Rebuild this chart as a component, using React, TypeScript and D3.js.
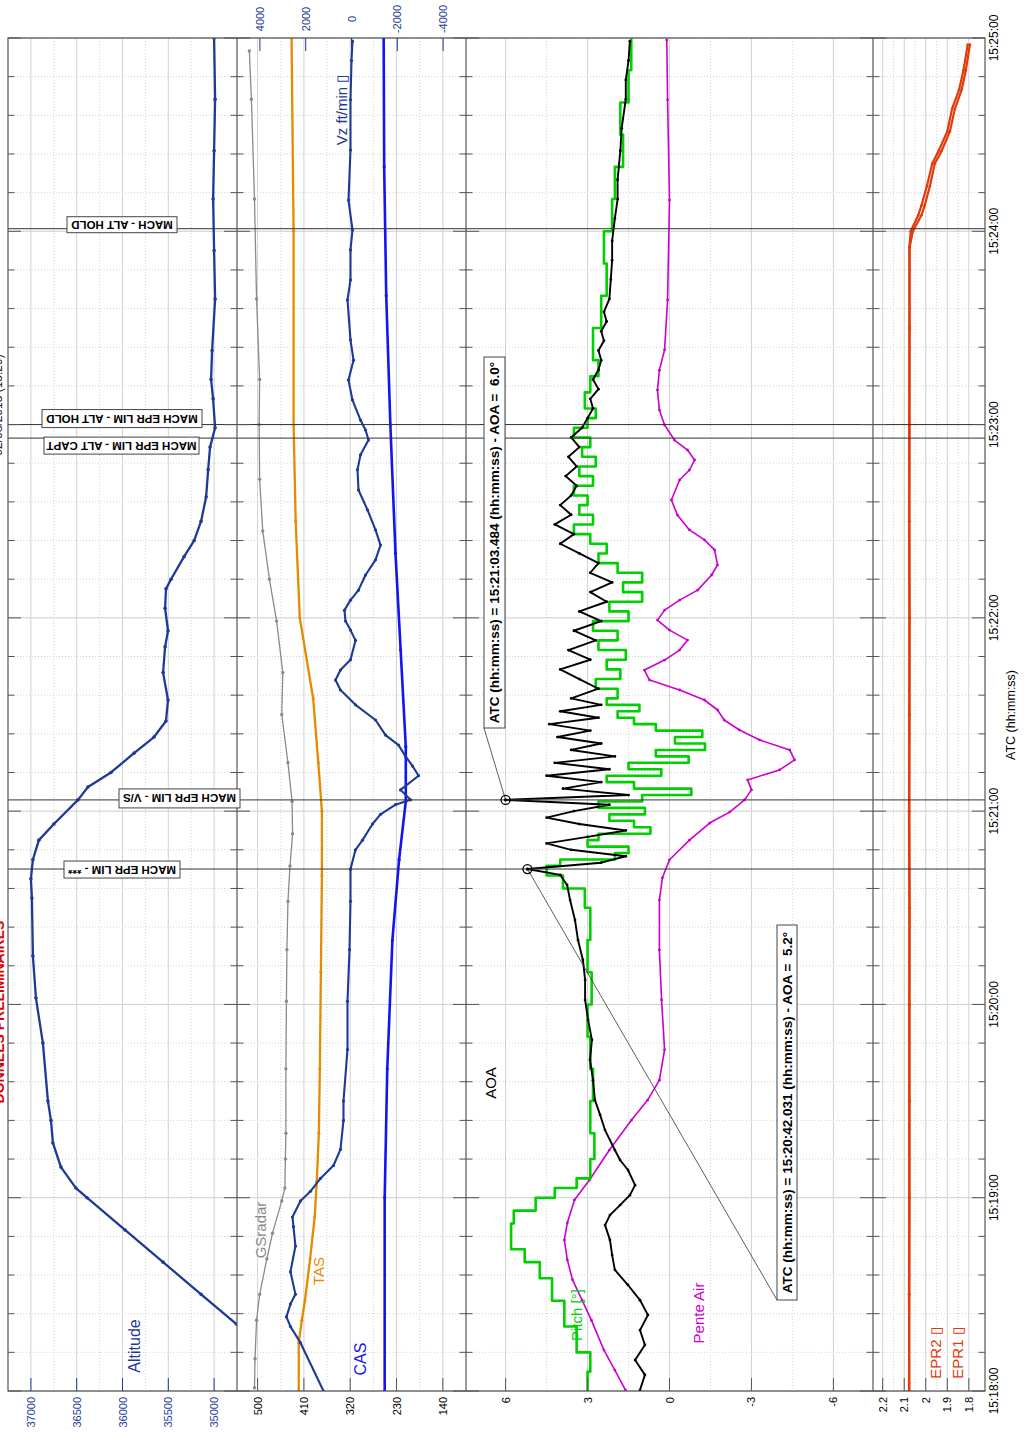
import React from 'react';
import * as d3 from 'd3';

type P = [number, number];

// ---------- axis ticks ----------
const timeMajor = [0, 60, 120, 180, 240, 300, 360, 420];
const timeMajorLabels = ['15:18:00', '15:19:00', '15:20:00', '15:21:00', '15:22:00', '15:23:00', '15:24:00', '15:25:00'];
const timeMinor = d3.range(0, 421, 12);

const altTicks = [37000, 36500, 36000, 35500, 35000];
const altMinor = [36750, 36250, 35750, 35250];
const spdTicks = [500, 410, 320, 230, 140];
const spdMinor = [455, 365, 275, 185];
const vzTicks = [4000, 2000, 0, -2000, -4000];
const aoaTicks = [6, 3, 0, -3, -6];
const aoaMinor = [4.5, 1.5, -1.5, -4.5];
const eprTicks = [2.2, 2.1, 2, 1.9, 1.8];
const eprMinor = [2.15, 2.05, 1.95, 1.85];

// ---------- series: [seconds after 15:18:00, value] ----------
const altitude: P[] = [[0,33896],[10,34311],[20.8,34759],[30,35142],[40,35557],[50,35973],[60,36388],[63,36508],[69.5,36672],[77,36760],[84,36781],[90,36814],[108,36869],[122,36945],[135,36978],[153,36989],[159,37000],[165,36978],[171,36913],[176,36749],[183.5,36486],[187.5,36377],[192,36126],[198,35874],[203,35656],[208,35525],[214.5,35503],[223,35557],[231,35535],[236,35503],[243,35535],[249,35525],[252,35470],[259,35328],[264,35218],[270,35142],[277.5,35087],[286,35065],[293,35044],[299,34989],[308,35011],[314,35033],[323,35022],[339,34989],[354,35000],[370,35011],[385,35000],[401,34989],[420,35000]];

const gsRadar: P[] = [[1,506],[10,505],[22,502],[30,496],[41,482],[49,471],[59,453],[63,447],[72,446],[80,445],[100,445],[121,444],[137,443],[152,441],[163,437],[173,432],[183,433],[195,441],[210,453],[223,451],[239,463],[252,477],[267,490],[283,496],[300,497],[314,496],[339,502],[370,506],[401,512],[416,516]];

const tas: P[] = [[0,420],[15,420],[22,414],[28,408],[41,398],[54,389],[65,385],[80,381],[100,379],[130,377],[160,375],[180,375],[195,382],[215,392],[240,418],[270,426],[300,430],[360,430],[420,434]];

const cas: P[] = [[0,253],[60,253],[100,248],[140,238],[165,225],[183,212],[200,212],[230,222],[260,232],[300,242],[340,250],[380,254],[420,255]];

const vz: P[] = [[0,1224],[15,2229],[20,2666],[23,2840],[27,2666],[30,2447],[37,2666],[45,2447],[51,2535],[54,2578],[59,2229],[62,1792],[66,1355],[70,787],[75,481],[84,350],[90,350],[106,175],[121,175],[137,87],[152,44],[162,44],[168,-175],[171,-480],[176,-918],[179,-1267],[182,-1923],[183.5,-2578],[186.6,-2141],[191,-2928],[194,-2666],[197,-2360],[200.5,-2054],[203.6,-1486],[208.3,-1049],[213,-175],[217.6,481],[220.7,699],[223.8,481],[227,44],[233,-175],[236.2,44],[239,262],[242.4,306],[245.5,44],[248.6,-306],[253.3,-612],[258,-1049],[262.6,-1267],[267.3,-1049],[273.5,-699],[279.7,-306],[286,-262],[290.6,-393],[295.2,-743],[298.3,-612],[301.4,-393],[307.6,-44],[313.8,131],[320,-87],[326.3,44],[338.7,175],[344.9,44],[354.2,44],[360.4,-44],[369.7,131],[385.2,44],[400.8,44],[413,0],[419,-44]];

const aoa: P[] = [[0.3,1.08],[5,0.9],[9.6,1.26],[14.3,0.9],[18.9,1.08],[23.6,0.79],[28.2,1.08],[32.9,1.52],[37.6,2.0],[42.2,2.1],[46.9,2.18],[51.5,2.36],[54.6,2.18],[57.7,1.81],[60.8,1.45],[63.9,1.26],[68.6,1.52],[71.7,1.81],[74.8,2.0],[81,2.36],[85.7,2.54],[90.3,2.73],[96.5,2.8],[102.8,2.91],[109,2.84],[115.2,2.98],[121.4,3.09],[127.6,3.09],[133.8,3.17],[140,3.35],[146.2,3.46],[152.4,3.64],[157.1,3.75],[160.2,4.0],[162.031,5.2],[164,2.5],[166,1.6],[168,3.6],[170,4.5],[172,3.0],[174,1.6],[176,3.3],[178,4.5],[180,3.5],[182,2.2],[183.484,6.0],[185,1.5],[187,3.9],[189,2.5],[191,4.5],[193,2.2],[195,4.2],[197,2.0],[199,3.6],[201,2.5],[203,4.1],[205,2.9],[207,4.4],[209,2.6],[211,4.0],[213,2.5],[215,3.6],[218,2.6],[221,3.3],[224,4.0],[227,2.9],[230,3.7],[233,2.7],[236,3.5],[239,2.5],[242,3.3],[245,2.3],[248,2.9],[251,2.1],[254,2.9],[257,2.6],[260,3.3],[263,4.0],[266,3.5],[269,4.2],[272,3.6],[275,4.0],[278,3.6],[281,3.4],[284,3.8],[287,3.4],[290,3.7],[293,3.3],[296,3.6],[299,3.2],[302,3.0],[305,2.8],[308,2.9],[311,2.6],[314,2.8],[317,2.6],[320,2.5],[323,2.6],[326,2.4],[329,2.5],[332,2.3],[335,2.4],[339,2.2],[345,2.15],[351,2.1],[357,2.1],[364,2.0],[370,1.9],[376,1.9],[385,1.8],[392,1.75],[401,1.6],[407,1.6],[413,1.5],[419,1.45]];

const pitch: P[] = [[0,3.0],[6,2.9],[12,3.4],[20,3.85],[28,4.3],[35,4.75],[40,5.3],[44,5.8],[52,5.7],[56,4.9],[60,4.2],[63,3.4],[66,2.9],[72,2.75],[80,2.9],[90,2.8],[100,2.9],[110,3.0],[120,2.85],[130,3.0],[140,2.9],[150,3.1],[156,3.9],[160,4.5],[163,4.0],[165,2.0],[167,1.5],[169,3.0],[171,2.6],[173,0.7],[175,1.3],[177,2.2],[179,0.9],[181,2.6],[183,1.0],[185,-0.8],[187,1.3],[189,2.3],[191,0.3],[193,1.5],[195,-0.7],[197,0.5],[199,-1.3],[201,-0.2],[203,-1.2],[205,0.5],[207,1.3],[209,1.9],[211,1.1],[213,2.3],[215,1.9],[218,2.7],[221,1.8],[224,2.3],[227,1.6],[230,2.6],[233,1.9],[236,2.8],[239,1.5],[242,2.2],[245,1.0],[248,1.7],[251,1.0],[254,1.9],[257,2.6],[260,2.3],[263,2.9],[266,3.5],[269,2.8],[272,3.3],[275,3.0],[278,3.5],[281,2.8],[284,3.3],[287,2.7],[290,3.2],[293,2.9],[296,3.5],[299,3.0],[302,2.7],[305,3.1],[310,2.9],[315,2.6],[320,2.8],[330,2.5],[340,2.3],[350,2.4],[360,2.1],[370,2.0],[380,1.7],[390,1.8],[400,1.5],[410,1.4],[420,1.45]];

const penteAir: P[] = [[0.3,1.61],[6.5,2.0],[12.7,2.4],[22,2.86],[28.2,3.2],[34.5,3.55],[40.7,3.74],[46.9,3.85],[52.2,3.74],[59.3,3.48],[65.5,2.93],[74.8,2.2],[84.1,1.39],[90.3,0.8],[96.5,0.37],[105.9,0.18],[121.4,0.29],[136.9,0.37],[152.4,0.37],[159.3,0.26],[164.9,0],[171,-0.73],[176.3,-1.47],[179.7,-2.2],[183.5,-2.75],[186.6,-3.0],[189.7,-2.86],[192.8,-4.03],[195.9,-4.58],[199,-4.4],[202.1,-3.3],[205.2,-2.56],[208.3,-2.0],[211.4,-1.76],[214.5,-1.28],[217.6,-0.37],[220.7,0.73],[223.8,0.92],[226.9,0.18],[230,-0.37],[233.1,-0.66],[236.2,0],[239.3,0.44],[242.4,0.18],[245.5,-0.37],[248.6,-1.03],[253.3,-1.54],[256.4,-1.76],[261.1,-1.65],[264.2,-1.28],[267.3,-0.73],[271.9,-0.29],[276.6,-0.07],[282.8,-0.37],[285.9,-0.73],[289,-0.92],[292.1,-0.66],[295.2,-0.18],[299.9,0.18],[304.5,0.37],[310.7,0.44],[316.9,0.37],[323.2,0.18],[338.7,0.07],[369.7,0],[400.8,0.07],[419.4,0.1]];

const epr1: P[] = [[0,2.076],[30,2.078],[60,2.075],[90,2.077],[120,2.075],[150,2.076],[180,2.078],[210,2.075],[240,2.076],[270,2.077],[300,2.075],[330,2.076],[355,2.075],[360,2.06],[365,2.02],[368,2.005],[374,1.981],[381,1.958],[385,1.926],[391,1.888],[398,1.865],[404,1.833],[410,1.814],[418,1.795]];
const epr2: P[] = [[0,2.078],[30,2.076],[60,2.077],[90,2.075],[120,2.077],[150,2.075],[180,2.076],[210,2.077],[240,2.075],[270,2.076],[300,2.077],[330,2.075],[355,2.076],[360,2.07],[365,2.035],[368,2.02],[374,1.995],[381,1.97],[385,1.94],[391,1.9],[398,1.878],[404,1.845],[410,1.825],[418,1.805]];

// ---------- events & cursors ----------
const eventTimes = [162.031, 183.484, 295.8, 300.0, 360.8];
const eventLabels = ['MACH EPR LIM - ***', 'MACH EPR LIM - V/S', 'MACH EPR LIM - ALT CAPT', 'MACH EPR LIM - ALT HOLD', 'MACH - ALT HOLD'];
const cursorTimes = [162.031, 183.484];
const cursorAoa = [5.2, 6.0];
const cursorLabels = [
  'ATC (hh:mm:ss) = 15:20:42.031 (hh:mm:ss) - AOA =  5.2\u00b0',
  'ATC (hh:mm:ss) = 15:21:03.484 (hh:mm:ss) - AOA =  6.0\u00b0',
];

// ---------- layout ----------
const L = 8, R = 985, T = 38, B = 1391;
const ALT_X: [number, number] = [8, 237];
const SPD_X: [number, number] = [237, 466];
const AOA_X: [number, number] = [466, 873];
const EPR_X: [number, number] = [873, 985];
const eventBoxLayout = [
  { cx: 122, dy: 0.5, w: 116, h: 17 },
  { cx: 179.5, dy: -1.5, w: 121, h: 19 },
  { cx: 121.5, dy: 7.5, w: 155, h: 17 },
  { cx: 122, dy: -6, w: 160, h: 18 },
  { cx: 122, dy: -4, w: 110, h: 16 },
];
const cursorBoxLayout = [
  { x: 777, y: 925, w: 20, h: 375 },
  { x: 484, y: 357, w: 21, h: 371 },
];

const NAVY = '#1f3a96';
const BLUE = '#1414f0';
const ORANGE = '#e68a00';
const GRAY = '#8a8a8a';
const GREEN = '#00d000';
const MAGENTA = '#cc00cc';
const RED = '#e23a0a';
const GRID = '#d2d2d2';
const FRAME = '#555555';
const FONT = '"Liberation Sans", Arial, sans-serif';

export default function App() {
  const yT = d3.scaleLinear().domain([0, 420]).range([B, T]);
  const xAlt = d3.scaleLinear().domain([37250, 34750]).range(ALT_X);
  const xSpd = d3.scaleLinear().domain([540, 95]).range(SPD_X);
  const xVz = d3.scaleLinear().domain([5000, -5000]).range(SPD_X);
  const xAoa = d3.scaleLinear().domain([7.45, -7.45]).range(AOA_X);
  const xEpr = d3.scaleLinear().domain([2.245, 1.725]).range(EPR_X);

  const line = (xs: d3.ScaleLinear<number, number>) =>
    d3.line<P>().x((d) => xs(d[1])).y((d) => yT(d[0]));
  const step = (xs: d3.ScaleLinear<number, number>) =>
    d3.line<P>().x((d) => xs(d[1])).y((d) => yT(d[0])).curve(d3.curveStepBefore);

  const series = (data: P[], xs: d3.ScaleLinear<number, number>, color: string, w: number, r: number, stepped = false) => (
    <g>
      <path d={(stepped ? step(xs) : line(xs))(data) || ''} fill="none" stroke={color} strokeWidth={w} strokeLinejoin="round" />
      {r > 0 && data.map((d, i) => <circle key={i} cx={xs(d[1])} cy={yT(d[0])} r={r} fill={color} />)}
    </g>
  );

  const vGrid = (xs: d3.ScaleLinear<number, number>, major: number[], minor: number[]) => (
    <g>
      {minor.map((v) => <line key={'m' + v} x1={xs(v)} x2={xs(v)} y1={T} y2={B} stroke={GRID} strokeDasharray="1,2" />)}
      {major.map((v) => <line key={'M' + v} x1={xs(v)} x2={xs(v)} y1={T} y2={B} stroke={GRID} />)}
    </g>
  );

  const rotText = (x: number, y: number, txt: string, color: string, size: number, anchor = 'middle', weight = 'normal', angle = -90) => (
    <text transform={`translate(${x},${y}) rotate(${angle})`} textAnchor={anchor} dominantBaseline="central"
      fill={color} fontSize={size} fontFamily={FONT} fontWeight={weight} style={{ whiteSpace: 'pre' }}>{txt}</text>
  );

  const edgesLeft = [ALT_X[0], SPD_X[0], AOA_X[0], EPR_X[0]];
  const edgesRight = [ALT_X[1], SPD_X[1], AOA_X[1], EPR_X[1]];

  return (
    <svg width={1024} height={1432} style={{ position: 'absolute', left: 0, top: 0, background: '#fff' }}>
      <defs>
        <clipPath id="cAlt"><rect x={ALT_X[0]} y={T} width={ALT_X[1] - ALT_X[0]} height={B - T} /></clipPath>
        <clipPath id="cSpd"><rect x={SPD_X[0]} y={T} width={SPD_X[1] - SPD_X[0]} height={B - T} /></clipPath>
        <clipPath id="cAoa"><rect x={AOA_X[0]} y={T} width={AOA_X[1] - AOA_X[0]} height={B - T} /></clipPath>
        <clipPath id="cEpr"><rect x={EPR_X[0]} y={T} width={EPR_X[1] - EPR_X[0]} height={B - T} /></clipPath>
      </defs>
      <rect x={0} y={0} width={1024} height={1432} fill="#fff" />

      {/* time grid */}
      {timeMinor.map((t) => <line key={'tm' + t} x1={L} x2={R} y1={yT(t)} y2={yT(t)} stroke={GRID} strokeDasharray="1,2" />)}
      {timeMajor.map((t) => <line key={'tM' + t} x1={L} x2={R} y1={yT(t)} y2={yT(t)} stroke={GRID} />)}

      {/* value grids */}
      {vGrid(xAlt, altTicks, altMinor)}
      {vGrid(xSpd, spdTicks, spdMinor)}
      {vGrid(xAoa, aoaTicks, aoaMinor)}
      {vGrid(xEpr, eprTicks, eprMinor)}

      {/* series */}
      <g clipPath="url(#cAlt)">{series(altitude, xAlt, NAVY, 2.3, 1.8)}</g>
      <g clipPath="url(#cSpd)">
        {series(gsRadar, xSpd, GRAY, 1.3, 1.7)}
        {series(tas, xSpd, ORANGE, 2.3, 1.5)}
        {series(cas, xSpd, BLUE, 2.6, 1.6)}
        {series(vz, xVz, NAVY, 2.1, 1.6)}
      </g>
      <g clipPath="url(#cAoa)">
        {series(penteAir, xAoa, MAGENTA, 1.6, 1.4)}
        {series(pitch, xAoa, GREEN, 2.6, 0, true)}
        {series(aoa, xAoa, '#000', 1.9, 1.4)}
      </g>
      <g clipPath="url(#cEpr)">
        {series(epr2, xEpr, RED, 2.2, 1.3)}
        {series(epr1, xEpr, RED, 2.2, 1.3)}
      </g>

      {/* event lines */}
      {eventTimes.map((t, i) => <line key={'ev' + i} x1={L} x2={R} y1={yT(t)} y2={yT(t)} stroke="#333" strokeWidth={1} />)}

      {/* frame */}
      <rect x={L} y={T} width={R - L} height={B - T} fill="none" stroke={FRAME} strokeWidth={1.2} />
      {[SPD_X[0], AOA_X[0], EPR_X[0]].map((x) => <line key={'pb' + x} x1={x} x2={x} y1={T} y2={B} stroke={FRAME} strokeWidth={1.2} />)}

      {/* time ticks on panel edges */}
      {timeMinor.map((t) => {
        const major = t % 60 === 0;
        const len = major ? 13 : 6.5;
        return (
          <g key={'tk' + t}>
            {edgesLeft.map((x) => <line key={'l' + x} x1={x} x2={x + len} y1={yT(t)} y2={yT(t)} stroke={FRAME} />)}
            {edgesRight.map((x) => <line key={'r' + x} x1={x - len} x2={x} y1={yT(t)} y2={yT(t)} stroke={FRAME} />)}
          </g>
        );
      })}

      {/* value ticks */}
      {altTicks.map((v) => <line key={'at' + v} x1={xAlt(v)} x2={xAlt(v)} y1={B - 13} y2={B} stroke={NAVY} />)}
      {spdTicks.map((v) => <line key={'st' + v} x1={xSpd(v)} x2={xSpd(v)} y1={B - 13} y2={B} stroke={FRAME} />)}
      {aoaTicks.map((v) => <line key={'ot' + v} x1={xAoa(v)} x2={xAoa(v)} y1={B - 13} y2={B} stroke={FRAME} />)}
      {eprTicks.map((v) => <line key={'et' + v} x1={xEpr(v)} x2={xEpr(v)} y1={B - 13} y2={B} stroke={FRAME} />)}
      {vzTicks.map((v) => <line key={'vt' + v} x1={xVz(v)} x2={xVz(v)} y1={T} y2={T + 13} stroke={NAVY} />)}

      {/* tick labels */}
      {altTicks.map((v) => <g key={'al' + v}>{rotText(xAlt(v), B + 6, String(v), NAVY, 11, 'end')}</g>)}
      {spdTicks.map((v) => <g key={'sl' + v}>{rotText(xSpd(v), B + 6, String(v), '#000', 11, 'end')}</g>)}
      {aoaTicks.map((v) => <g key={'ol' + v}>{rotText(xAoa(v), B + 6, String(v), '#000', 11, 'end')}</g>)}
      {eprTicks.map((v) => <g key={'el' + v}>{rotText(xEpr(v), B + 6, String(v), '#000', 11, 'end')}</g>)}
      {vzTicks.map((v) => <g key={'vl' + v}>{rotText(xVz(v), 19, String(v), NAVY, 11, 'middle')}</g>)}
      {timeMajor.map((t, i) => <g key={'tl' + t}>{rotText(994, yT(t), timeMajorLabels[i], '#000', 12, 'middle')}</g>)}
      {rotText(1011, 715, 'ATC (hh:mm:ss)', '#000', 12.5, 'middle')}

      {/* series labels */}
      {rotText(134, 1346, 'Altitude', NAVY, 16)}
      {rotText(260, 1230, 'GSradar', GRAY, 15)}
      {rotText(318, 1271, 'TAS', ORANGE, 15)}
      {rotText(360, 1359, 'CAS', BLUE, 16)}
      {rotText(341, 110, 'Vz ft/min \u25AF', NAVY, 15)}
      {rotText(490, 1083, 'AOA', '#000', 15)}
      {rotText(576, 1315, 'Pitch [\u00b0]', GREEN, 15)}
      {rotText(698, 1313, 'Pente Air', MAGENTA, 15)}
      {rotText(935, 1353, 'EPR2 \u25AF', RED, 15)}
      {rotText(957, 1353, 'EPR1 \u25AF', RED, 15)}

      {/* header texts, cut by the left page edge as in the source */}
      {rotText(-1, 1012, 'DONNEES PRELIMINAIRES', '#e00000', 14, 'middle', 'bold')}
      {rotText(-2, 405, '02/08/2013 (15:29)', '#222', 12, 'middle')}

      {/* event labels (upside down) */}
      {eventTimes.map((t, i) => {
        const b = eventBoxLayout[i];
        const cy = yT(t) + b.dy;
        return (
          <g key={'eb' + i}>
            <rect x={b.cx - b.w / 2} y={cy - b.h / 2} width={b.w} height={b.h} fill="#fff" stroke="#444" strokeWidth={1} />
            {rotText(b.cx, cy, eventLabels[i], '#000', 11.5, 'middle', 'bold', 180)}
          </g>
        );
      })}

      {/* cursor annotations */}
      {cursorTimes.map((t, i) => {
        const b = cursorBoxLayout[i];
        const mx = xAoa(cursorAoa[i]);
        const my = yT(t);
        return (
          <g key={'cu' + i}>
            <line x1={mx} y1={my} x2={b.x} y2={b.y + b.h} stroke="#333" strokeWidth={0.8} />
            <rect x={b.x} y={b.y} width={b.w} height={b.h} fill="#fff" stroke="#444" strokeWidth={1} />
            {rotText(b.x + b.w / 2, b.y + b.h / 2, cursorLabels[i], '#000', 13.5, 'middle', 'bold')}
            <circle cx={mx} cy={my} r={4.5} fill="none" stroke="#000" strokeWidth={1.3} />
            <circle cx={mx} cy={my} r={1.5} fill="#000" />
          </g>
        );
      })}
    </svg>
  );
}
